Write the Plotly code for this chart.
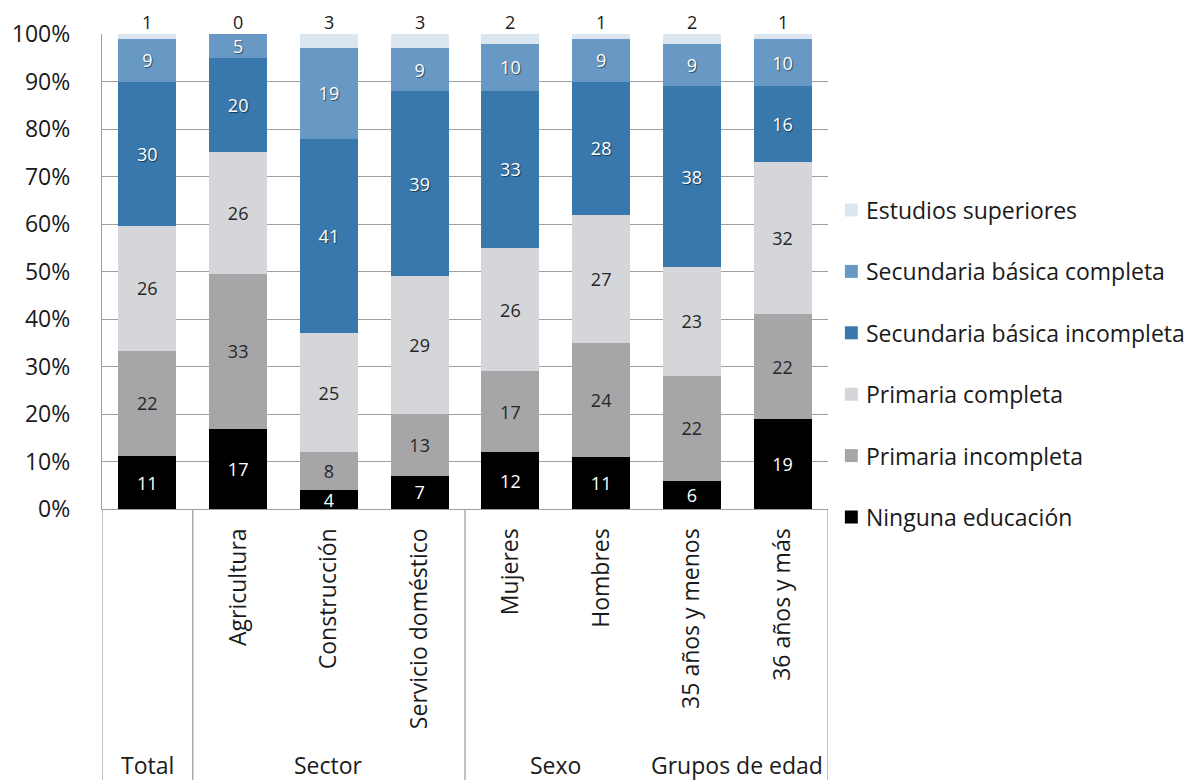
import plotly.graph_objects as go

# Categories along the x axis (Total has no inner label, only its group label)
categories = ["Total", "Agricultura", "Construcción", "Servicio doméstico",
              "Mujeres", "Hombres", "35 años y menos", "36 años y más"]
tick_labels = ["", "Agricultura", "Construcción", "Servicio doméstico",
               "Mujeres", "Hombres", "35 años y menos", "36 años y más"]

# Group labels and their centre positions (category index)
groups = ["Total", "Sector", "Sexo", "Grupos de edad"]
group_centres = [0, 2, 4.5, 6.5]
group_dividers = [-0.5, 0.5, 3.5, 7.5]

# Education level shares (%) per category
ninguna = [11, 17, 4, 7, 12, 11, 6, 19]
primaria_incompleta = [22, 33, 8, 13, 17, 24, 22, 22]
primaria_completa = [26, 26, 25, 29, 26, 27, 23, 32]
secundaria_incompleta = [30, 20, 41, 39, 33, 28, 38, 16]
secundaria_completa = [9, 5, 19, 9, 10, 9, 9, 10]
superiores = [1, 0, 3, 3, 2, 1, 2, 1]

y_ticks = [0, 10, 20, 30, 40, 50, 60, 70, 80, 90, 100]
y_tick_text = [f"{v}%" for v in y_ticks]

series = [
    ("Ninguna educación", ninguna, "#000000", "white", False),
    ("Primaria incompleta", primaria_incompleta, "#a6a6a8", "#262626", False),
    ("Primaria completa", primaria_completa, "#d5d6d9", "#262626", False),
    ("Secundaria básica incompleta", secundaria_incompleta, "#3878ad", "white", True),
    ("Secundaria básica completa", secundaria_completa, "#6899c4", "white", True),
    ("Estudios superiores", superiores, "#dbe6f0", "#262626", False),
]

FONT = "Open Sans"
GRID = "#a0a0a0"
TEXT = "#1a1a1a"

W, H = 1190, 780
M_L, M_R, M_T, M_B = 97, 362, 34, 271
PLOT_W = W - M_L - M_R
PLOT_H = H - M_T - M_B


def px_to_paper(px, py):
    return (px - M_L) / PLOT_W, (H - M_B - py) / PLOT_H


fig = go.Figure()
for name, vals, color, tcolor, shadow in series:
    top = name == "Estudios superiores"
    fig.add_trace(go.Bar(
        name=name,
        x=categories,
        y=vals,
        marker=dict(color=color, line=dict(width=0)),
        text=None if top else [str(v) for v in vals],
        texttemplate=None if top else "%{text}",
        textposition="none" if top else "inside",
        insidetextanchor="middle",
        textangle=0,
        textfont=dict(family=FONT, size=18, color=tcolor,
                      shadow="1px 1px 1px rgba(0,0,0,0.55)" if shadow else "none"),
        showlegend=False,
        hoverinfo="skip",
    ))

annotations = []
shapes = []

# Labels for the top segment, just above each bar
for cat, v in zip(categories, superiores):
    annotations.append(dict(text=str(v), x=cat, xref="x", y=100, yref="y",
                            showarrow=False, xanchor="center", yanchor="middle",
                            yshift=12,
                            font=dict(family=FONT, size=18, color=TEXT)))

# Group labels under the rotated category labels
for g, c in zip(groups, group_centres):
    annotations.append(dict(text=g, x=c, xref="x", y=-0.539, yref="paper",
                            showarrow=False, xanchor="center", yanchor="middle",
                            font=dict(family=FONT, size=23, color=TEXT)))

# Group divider lines running down through the category label area
for xd in group_dividers:
    shapes.append(dict(type="line", xref="x", yref="paper",
                       x0=xd, x1=xd, y0=0, y1=-0.6,
                       line=dict(color=GRID, width=1.3), layer="above"))

# Legend on the right: top of the stack first
legend_top, legend_step = 210, 61.4
for k, (name, _, color, _, _) in enumerate(reversed(series)):
    yc = legend_top + k * legend_step
    x0, y0 = px_to_paper(845, yc + 6.5)
    x1, y1 = px_to_paper(858, yc - 6.5)
    shapes.append(dict(type="rect", xref="paper", yref="paper",
                       x0=x0, x1=x1, y0=y0, y1=y1,
                       fillcolor=color, line=dict(width=0)))
    tx, ty = px_to_paper(864, yc)
    annotations.append(dict(text=name, x=tx, y=ty, xref="paper", yref="paper",
                            showarrow=False, xanchor="left", yanchor="middle",
                            font=dict(family=FONT, size=23, color=TEXT)))

fig.update_layout(
    width=W, height=H,
    margin=dict(l=M_L, r=M_R, t=M_T, b=M_B),
    paper_bgcolor="white",
    plot_bgcolor="white",
    barmode="stack",
    barnorm="percent",
    bargap=0.36,
    uniformtext=dict(minsize=18, mode="show"),
    font=dict(family=FONT, color=TEXT),
    showlegend=False,
    xaxis=dict(
        type="category",
        tickmode="array",
        tickvals=categories,
        ticktext=tick_labels,
        tickangle=-90,
        tickfont=dict(family=FONT, size=23, color=TEXT),
        ticks="",
        showline=True, linecolor=GRID, linewidth=1.3,
        showgrid=False,
        ticklabelstandoff=9,
        range=[-0.5, 7.5],
    ),
    yaxis=dict(
        range=[0, 100],
        tickmode="array",
        tickvals=y_ticks,
        ticktext=y_tick_text,
        tickfont=dict(family=FONT, size=23, color=TEXT),
        showgrid=True, gridcolor=GRID, gridwidth=1.3,
        showline=True, linecolor=GRID, linewidth=1.3,
        ticks="",
        ticklabelstandoff=26,
        zeroline=False,
    ),
    shapes=shapes,
    annotations=annotations,
)

fig.write_html("out.html")
